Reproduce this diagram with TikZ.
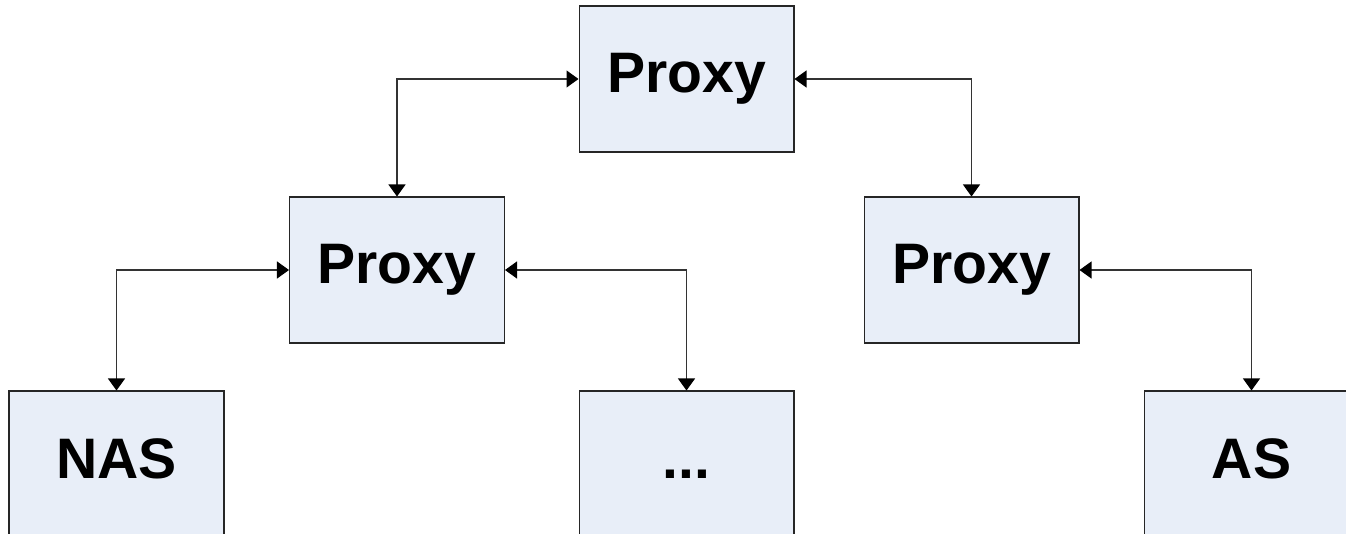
\documentclass[tikz,border=0pt]{standalone}
\usepackage{fontspec}
\setmainfont{Liberation Sans}
\usetikzlibrary{arrows.meta}
\definecolor{boxfill}{RGB}{232,238,248}
\begin{document}
\begin{tikzpicture}[
        x=0.02cm, y=-0.02cm,
        proxybox/.style={rectangle, draw=black!85, line width=0.6pt, fill=boxfill, minimum width=4.3cm, minimum height=2.92cm, inner sep=0pt, text height=0.8cm, text depth=0.24cm, font=\fontsize{32.5}{36}\selectfont\bfseries},
        link/.style={{Triangle[width=0.34cm,length=0.24cm,color=black]}-{Triangle[width=0.34cm,length=0.24cm,color=black]}, line width=0.6pt, draw=black!80}
    ]

        % Picture frame
        \useasboundingbox (0,0) rectangle (1346,534);
        \clip (0,0) rectangle (1346,534);

        % Top level
        \node[proxybox] (top) at (686.5,79) {Proxy};

        % Middle level
        \node[proxybox] (midleft) at (397,270) {Proxy};
        \node[proxybox] (midright) at (971.5,270) {Proxy};

        % Bottom level (cut off at the lower edge)
        \node[proxybox] (nas) at (116.5,464) {NAS};
        \node[proxybox] (dots) at (686.5,464) {...};
        \node[proxybox] (as) at (1251.5,464) {AS};

        % Links from the top proxy
        \draw[link] (top.west) -| (midleft.north);
        \draw[link] (top.east) -| (midright.north);

        % Links from the middle proxies
        \draw[link] (midleft.west) -| (nas.north);
        \draw[link] (midleft.east) -| (dots.north);
        \draw[link] (midright.east) -| (as.north);

    \end{tikzpicture}
\end{document}
